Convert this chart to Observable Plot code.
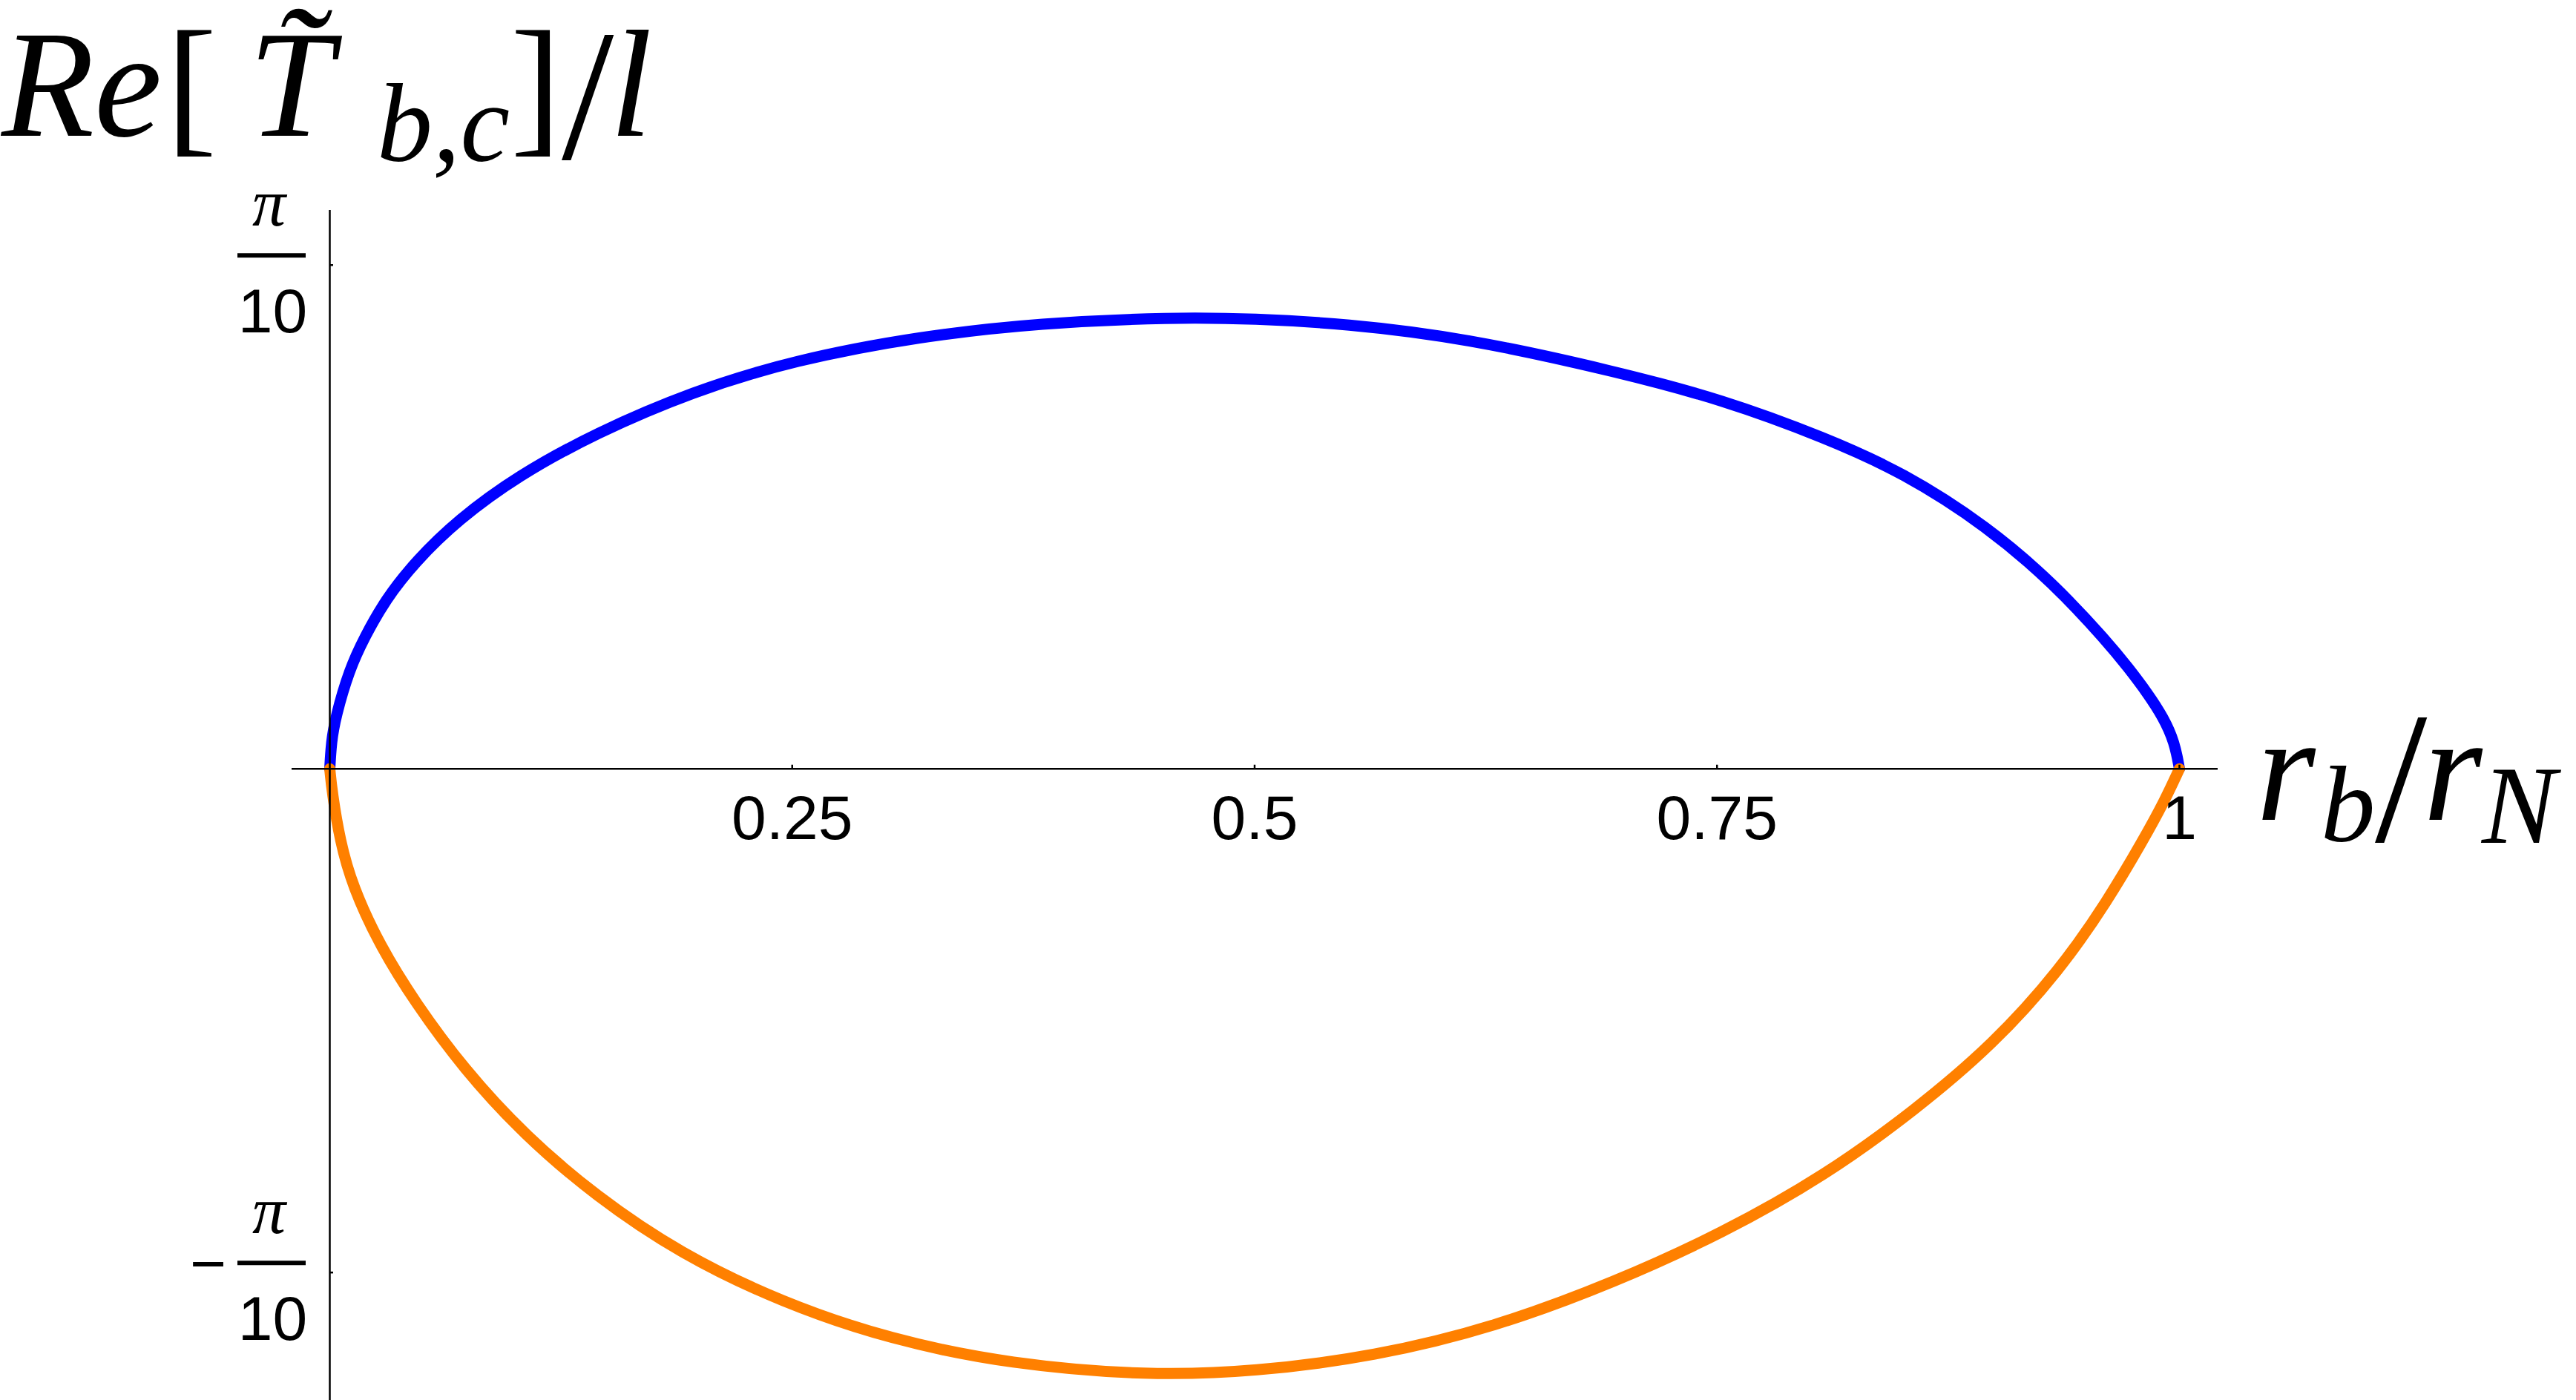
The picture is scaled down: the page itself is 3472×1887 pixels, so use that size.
<!DOCTYPE html>
<html>
<head>
<meta charset="utf-8">
<script src="https://cdn.jsdelivr.net/npm/d3@7"></script>
<script src="https://cdn.jsdelivr.net/npm/@observablehq/plot@0.6"></script>
<style>
  html, body { margin: 0; padding: 0; background: #fff; overflow: hidden; }
  #chart svg { display: block; }
</style>
</head>
<body>
<div id="chart"></div>
<script>
// ---- data ----
const xBlue = [0, 0.0008, 0.0030, 0.0106, 0.0187, 0.0301, 0.0464, 0.0691, 0.1016, 0.1438, 0.1958, 0.2511, 0.3193, 0.3843, 0.4557, 0.5000, 0.5485, 0.6135, 0.6948, 0.7532, 0.8085, 0.8507, 0.8962, 0.9320, 0.9612, 0.9725, 0.9826, 0.9914, 0.9974, 1.0];
const yBlue = [0, 0.0165, 0.0319, 0.0621, 0.0819, 0.1056, 0.1294, 0.1551, 0.1827, 0.2094, 0.2352, 0.2549, 0.2698, 0.2781, 0.2816, 0.2807, 0.2777, 0.2688, 0.2480, 0.2302, 0.2065, 0.1848, 0.1511, 0.1155, 0.0790, 0.0628, 0.0474, 0.0319, 0.0165, 0];

const xOrange = [0, 0.0012, 0.0055, 0.0122, 0.0269, 0.0464, 0.0724, 0.1049, 0.1438, 0.1893, 0.2446, 0.3031, 0.3680, 0.4428, 0.5000, 0.5648, 0.6298, 0.6948, 0.7532, 0.8085, 0.8572, 0.8994, 0.9352, 0.9612, 0.9807, 0.9920, 1.0];
const yOrange = [0, -0.0143, -0.0450, -0.0730, -0.1100, -0.1462, -0.1871, -0.2281, -0.2665, -0.3023, -0.3330, -0.3560, -0.3714, -0.3785, -0.3760, -0.3665, -0.3483, -0.3202, -0.2895, -0.2537, -0.2128, -0.1718, -0.1258, -0.0823, -0.0439, -0.0200, 0];

const xTicks = [0.25, 0.5, 0.75, 1];
const xTickLabels = ["0.25", "0.5", "0.75", "1"];
const yTicks = [Math.PI / 10, -Math.PI / 10];
const yTickSigns = ["", "\u2212"];
const yTickNumerators = ["\u03c0", "\u03c0"];
const yTickDenominators = ["10", "10"];

const blue = xBlue.map((x, i) => ({x, y: yBlue[i]}));
const orange = xOrange.map((x, i) => ({x, y: yOrange[i]}));
const yTickRows = yTicks.map((v, i) => ({v, sign: yTickSigns[i], num: yTickNumerators[i], den: yTickDenominators[i]}));

const sans = "Liberation Sans, Arial, sans-serif";
const serif = "Liberation Serif, Times New Roman, serif";

const plot = Plot.plot({
  width: 3472,
  height: 1887,
  marginLeft: 444,
  marginRight: 535,
  marginTop: 283,
  marginBottom: 0,
  x: {domain: [0, 1], axis: null},
  y: {domain: [-0.3939, 0.3483], axis: null},
  style: {background: "white", overflow: "visible"},
  marks: [
    Plot.line(blue, {x: "x", y: "y", stroke: "#0000ff", strokeWidth: 15, curve: "basis"}),
    Plot.line(orange, {x: "x", y: "y", stroke: "#ff8000", strokeWidth: 15, curve: "basis"}),
    // axes through the origin
    Plot.ruleY([0], {stroke: "black", strokeWidth: 2.5, insetLeft: -51, insetRight: -52}),
    Plot.ruleX([0], {stroke: "black", strokeWidth: 2.5}),
    // tick marks
    Plot.ruleX(xTicks, {x: d => d, y1: 0, y2: 0, insetTop: -5, stroke: "black", strokeWidth: 2.5}),
    Plot.ruleY(yTicks, {y: d => d, x1: 0, x2: 0, insetRight: -5, stroke: "black", strokeWidth: 2.5}),
    // x tick labels
    Plot.text(xTicks, {x: d => d, y: 0, text: (d, i) => xTickLabels[i], dy: 95, lineAnchor: "bottom", textAnchor: "middle", fontSize: 84, fontFamily: sans, fill: "black"}),
    // y tick labels as stacked fractions
    Plot.text(yTickRows, {x: 0, y: "v", text: "num", dx: -82, dy: -53, lineAnchor: "bottom", textAnchor: "middle", fontSize: 90, fontStyle: "italic", fontFamily: serif, fill: "black"}),
    Plot.text(yTickRows, {x: 0, y: "v", text: "den", dx: -77, dy: 91, lineAnchor: "bottom", textAnchor: "middle", fontSize: 84, fontFamily: sans, fill: "black"}),
    Plot.ruleY(yTickRows, {y: "v", x1: 0, x2: 0, insetLeft: -124, insetRight: 32, dy: -13, stroke: "black", strokeWidth: 6}),
    Plot.text(yTickRows, {x: 0, y: "v", text: "sign", dx: -164, dy: 17, lineAnchor: "bottom", textAnchor: "middle", fontSize: 84, fontFamily: sans, fill: "black"})
  ]
});

document.getElementById("chart").appendChild(plot);

// ---- axis labels (rich text) ----
const svg = d3.select(plot);
function piece(g, s, x, y, size, italic) {
  g.append("text")
    .attr("x", x).attr("y", y)
    .attr("font-size", size)
    .attr("font-family", serif)
    .attr("font-style", italic ? "italic" : "normal")
    .attr("text-anchor", "start")
    .attr("fill", "black")
    .text(s);
}
const title = svg.append("g").attr("class", "y-label").attr("text-anchor", "start");
piece(title, "Re", 2, 183, 205, true);
piece(title, "[", 224, 183, 205, false);
piece(title, "T\u0303", 335, 183, 205, true);
piece(title, "b,c", 508, 217, 150, true);
piece(title, "]", 688, 183, 205, false);
piece(title, "/", 757, 214, 253, false);
piece(title, "l", 822, 183, 205, true);

const xl = svg.append("g").attr("class", "x-label").attr("text-anchor", "start");
piece(xl, "r", 3041, 1105, 205, true);
piece(xl, "b", 3128, 1134, 147, true);
piece(xl, "/", 3201, 1134, 253, false);
piece(xl, "r", 3266, 1105, 205, true);
piece(xl, "N", 3345, 1136, 150, true);
</script>
</body>
</html>
